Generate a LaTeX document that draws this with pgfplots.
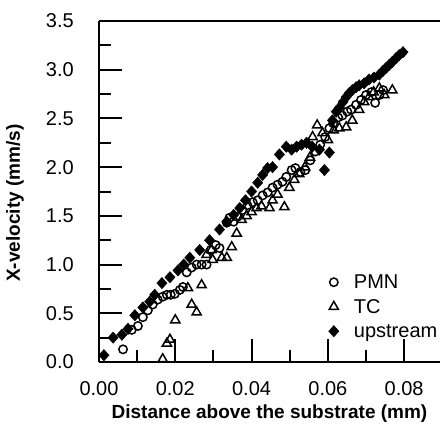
\documentclass[border=0pt]{standalone}
\usepackage{pgfplots}
\pgfplotsset{compat=1.18}
\usepackage{fontspec}
\setmainfont{Liberation Sans}
\begin{document}
\begin{tikzpicture}
\begin{axis}[
  at={(0pt,0pt)}, anchor=south west,
  scale only axis, width=341pt, height=341pt,
  xmin=0, xmax=0.0894, ymin=0, ymax=3.5,
  axis x line*=box, axis y line*=left,
  axis line style={-, line width=2pt, black},
  xtick={0,0.02,0.04,0.06,0.08},
  xticklabels={0.00,0.02,0.04,0.06,0.08},
  ytick={0,0.5,1,1.5,2,2.5,3,3.5},
  yticklabels={0.0,0.5,1.0,1.5,2.0,2.5,3.0,3.5},
  minor x tick num=1, minor y tick num=1,
  xtick pos=bottom, ytick pos=left,
  tick align=inside,
  major tick length=23pt, minor tick length=12pt,
  every tick/.style={line width=2pt, black},
  /pgf/number format/assume math mode=true,
  tick label style={font=\fontsize{20}{24}\selectfont, inner sep=0pt},
  xticklabel style={anchor=base, yshift=-33pt},
  yticklabel style={anchor=east, xshift=-25pt},
  every axis x label/.style={at={(axis description cs:0.5,-0.152)}, anchor=center, inner sep=0pt},
  every axis y label/.style={at={(axis description cs:-0.2463,0.466)}, rotate=90, anchor=center, inner sep=0pt},
  label style={font=\fontsize{19}{23}\selectfont\bfseries},
  xlabel={Distance above the substrate (mm)},
  ylabel={X-velocity (mm/s)},
  legend cell align=left,
  legend style={draw=none, fill=none, inner sep=0pt,
    at={(axis description cs:0.673,0.2705)}, anchor=north west,
    font=\fontsize{20}{24}\selectfont,
    row sep=0pt, column sep=15pt,
    nodes={inner sep=0pt, text height=19pt, text depth=5.5pt}},
]
\addplot[only marks, mark=o, mark size=4.2pt, mark options={line width=1.5pt, black}] coordinates {
(0.0063,0.13)(0.0086,0.33)(0.0102,0.37)(0.0115,0.46)(0.0128,0.53)(0.0141,0.59)
(0.0154,0.64)(0.0167,0.67)(0.0178,0.69)(0.0188,0.69)(0.0199,0.70)(0.0212,0.74)
(0.0220,0.77)(0.0230,0.92)(0.0243,0.97)(0.0256,1.00)(0.0269,1.00)(0.0282,1.00)
(0.0293,1.15)(0.0306,1.20)(0.0316,1.17)(0.0335,1.43)(0.0342,1.48)(0.0353,1.44)
(0.0363,1.49)(0.0376,1.56)(0.0389,1.61)(0.0403,1.64)(0.0416,1.66)(0.0429,1.71)
(0.0442,1.74)(0.0455,1.79)(0.0468,1.82)(0.0481,1.85)(0.0491,1.90)(0.0505,1.97)
(0.0515,1.99)(0.0528,1.95)(0.0541,1.97)(0.0554,2.07)(0.0567,2.16)(0.0580,2.23)
(0.0593,2.31)(0.0604,2.40)(0.0614,2.45)(0.0627,2.51)(0.0638,2.53)(0.0651,2.57)
(0.0661,2.59)(0.0674,2.64)(0.0687,2.69)(0.0700,2.74)(0.0714,2.77)(0.0724,2.66)
(0.0735,2.74)(0.0745,2.79)
};
\addlegendentry{PMN}
\addplot[only marks, mark=triangle, mark size=5.3pt, mark options={line width=1.5pt, black}] coordinates {
(0.0167,0.03)(0.0178,0.19)(0.0186,0.23)(0.0200,0.43)(0.0243,0.59)(0.0256,0.51)
(0.0233,0.76)(0.0269,0.79)(0.0282,1.10)(0.0295,1.15)(0.0298,1.05)(0.0322,1.07)
(0.0335,1.07)(0.0348,1.18)(0.0361,1.32)(0.0374,1.46)(0.0387,1.50)(0.0400,1.54)
(0.0413,1.58)(0.0426,1.60)(0.0447,1.58)(0.0455,1.66)(0.0468,1.72)(0.0486,1.59)
(0.0499,1.79)(0.0512,1.87)(0.0525,1.93)(0.0540,2.00)(0.0553,2.10)(0.0560,2.31)
(0.0572,2.43)(0.0586,2.35)(0.0600,2.28)(0.0615,2.38)(0.0630,2.40)(0.0648,2.41)
(0.0664,2.48)(0.0682,2.59)(0.0695,2.67)(0.0708,2.72)(0.0720,2.77)(0.0735,2.81)
(0.0748,2.74)(0.0769,2.79)
};
\addlegendentry{TC}
\addplot[only marks, mark=diamond*, mark size=5.7pt, mark options={xscale=1.2, black, fill=black}] coordinates {
(0.0013,0.07)(0.0037,0.25)(0.0060,0.28)(0.0076,0.34)(0.0094,0.48)(0.0115,0.56)
(0.0133,0.62)(0.0146,0.69)(0.0165,0.81)(0.0186,0.87)(0.0207,0.94)(0.0222,1.00)
(0.0238,1.07)(0.0264,1.15)(0.0290,1.25)(0.0316,1.36)(0.0335,1.44)(0.0353,1.51)
(0.0369,1.58)(0.0384,1.66)(0.0400,1.75)(0.0416,1.84)(0.0429,1.92)(0.0442,1.99)
(0.0455,2.00)(0.0473,2.13)(0.0491,2.21)(0.0505,2.18)(0.0518,2.21)(0.0531,2.23)
(0.0544,2.25)(0.0559,2.21)(0.0578,2.18)(0.0591,1.97)(0.0604,2.15)(0.0612,2.48)
(0.0622,2.57)(0.0630,2.61)(0.0640,2.67)(0.0648,2.72)(0.0656,2.76)(0.0664,2.79)
(0.0674,2.82)(0.0682,2.84)(0.0695,2.86)(0.0708,2.90)(0.0721,2.92)(0.0735,2.95)
(0.0745,2.99)(0.0753,3.02)(0.0761,3.05)(0.0769,3.08)(0.0779,3.12)(0.0787,3.15)
(0.0797,3.18)
};
\addlegendentry{upstream}
\end{axis}
\pgfresetboundingbox
\path[use as bounding box] (-99pt,-67pt) rectangle (341pt,362pt);
\end{tikzpicture}
\end{document}
